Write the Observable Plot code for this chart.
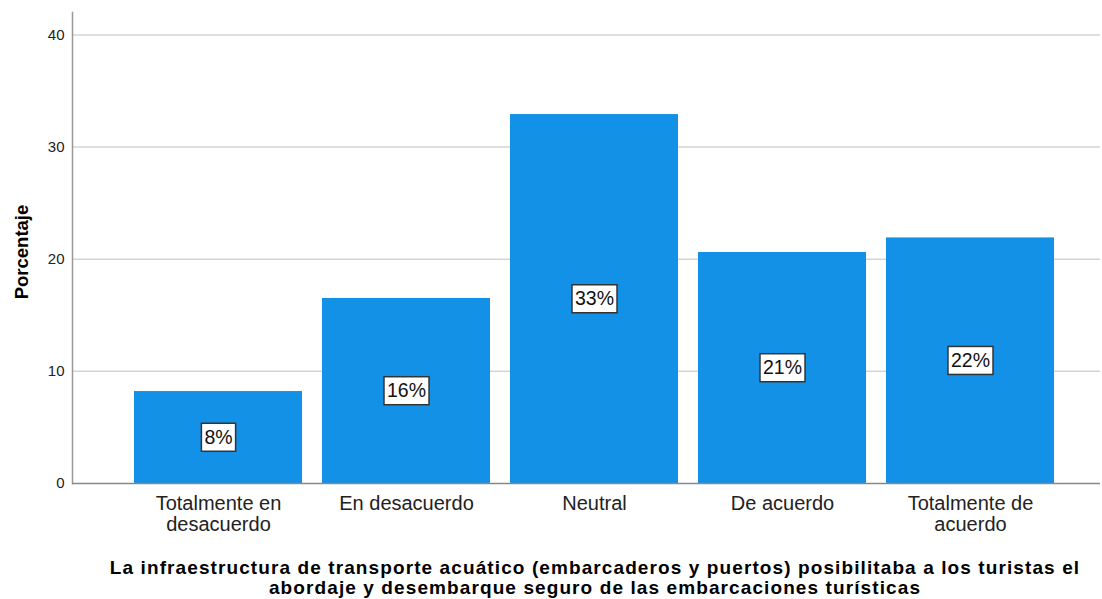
<!DOCTYPE html>
<html>
<head>
<meta charset="utf-8">
<script src="https://cdn.jsdelivr.net/npm/d3@7"></script>
<script src="https://cdn.jsdelivr.net/npm/@observablehq/plot@0.6"></script>
<style>
  body { margin: 0; background: #fff; font-family: "Liberation Sans", Arial, sans-serif; }
  #title { margin-top: 13px; margin-left: 100px; width: 990px; text-align: center; font-weight: bold; font-size: 19px; line-height: 20px; color: #000; letter-spacing: 1.1px; }
</style>
</head>
<body>
<div id="chart"></div>
<div id="title">La infraestructura de transporte acuático (embarcaderos y puertos) posibilitaba a los turistas el<br>abordaje y desembarque seguro de las embarcaciones turísticas</div>
<script>
const categories = ["Totalmente en desacuerdo", "En desacuerdo", "Neutral", "De acuerdo", "Totalmente de acuerdo"];
const tickLabels = ["Totalmente en\ndesacuerdo", "En desacuerdo", "Neutral", "De acuerdo", "Totalmente de\nacuerdo"];
const values = [8.2, 16.5, 32.9, 20.6, 21.9];
const valueLabels = ["8%", "16%", "33%", "21%", "22%"];
const yTicks = [0, 10, 20, 30, 40];

const data = categories.map((c, i) => ({cat: c, value: values[i], label: valueLabels[i]}));
const tickMap = new Map(categories.map((c, i) => [c, tickLabels[i]]));

const plot = Plot.plot({
  width: 1102,
  height: 545,
  marginLeft: 72,
  marginRight: 2,
  marginTop: 12,
  marginBottom: 62,
  style: {fontFamily: "Liberation Sans, Arial, sans-serif", background: "#fff"},
  x: {domain: categories, range: [124, 1064], paddingInner: 0.106, paddingOuter: 0.053, label: null},
  y: {domain: [0, 42], label: null},
  marks: [
    Plot.gridY(yTicks.filter(d => d > 0), {stroke: "#d4d4d4", strokeOpacity: 1, strokeWidth: 1.5}),
    Plot.frame({anchor: "left", stroke: "#999", strokeWidth: 1.5}),
    Plot.barY(data, {x: "cat", y: "value", fill: "#1391e6"}),
    Plot.ruleY([0], {stroke: "#888", strokeWidth: 1.5}),
    Plot.axisY({ticks: yTicks, tickSize: 0, tickPadding: 8, fontSize: 15, fill: "#222", label: null}),
    Plot.axisX({tickSize: 0, tickPadding: 12, fontSize: 20, fill: "#222", lineHeight: 1.05, tickFormat: d => tickMap.get(d), label: null}),
    Plot.text(["Porcentaje"], {frameAnchor: "left", textAnchor: "middle", rotate: -90, dx: -50, dy: 4, fontWeight: "bold", fontSize: 18.5, fill: "#000"}),
    Plot.text(data, {x: "cat", y: d => d.value / 2, text: "label", fontSize: 19.5, fill: "#111", className: "vlabel"})
  ]
});
document.getElementById("chart").appendChild(plot);

// white boxes behind value labels
const ns = "http://www.w3.org/2000/svg";
plot.querySelectorAll(".vlabel text").forEach(t => {
  const b = t.getBBox();
  const r = document.createElementNS(ns, "rect");
  r.setAttribute("x", b.x - 3);
  r.setAttribute("y", b.y - 2.5);
  r.setAttribute("width", b.width + 6);
  r.setAttribute("height", b.height + 6);
  r.setAttribute("fill", "#fff");
  r.setAttribute("stroke", "#333");
  r.setAttribute("stroke-width", 1.5);
  const tr = t.getAttribute("transform");
  if (tr) r.setAttribute("transform", tr);
  t.parentNode.insertBefore(r, t);
});
</script>
</body>
</html>
